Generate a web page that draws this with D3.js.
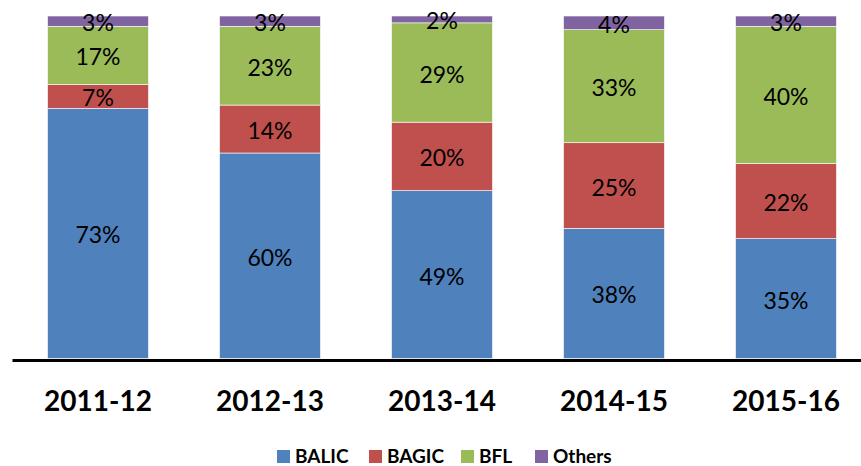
<!DOCTYPE html>
<html>
<head>
<meta charset="utf-8">
<script src="https://cdn.jsdelivr.net/npm/d3@7"></script>
<style>
  body { margin: 0; background: #fff; }
  svg { display: block; font-family: Lato, "Open Sans", sans-serif; }
</style>
</head>
<body>
<div id="chart"></div>
<script>
// share of each business, per year
const years = ["2011-12", "2012-13", "2013-14", "2014-15", "2015-16"];
const series = ["BALIC", "BAGIC", "BFL", "Others"];
const balic = [73, 60, 49, 38, 35];
const bagic = [7, 14, 20, 25, 22];
const bfl = [17, 23, 29, 33, 40];
const others = [3, 3, 2, 4, 3];
const colors = ["#4F81BD", "#C0504D", "#9BBB59", "#8064A2"];

const width = 861, height = 466,
    margin = ({ top: 16, bottom: 107, left: 12 });

const svg = d3.select("#chart")
    .append("svg")
    .attr("width", width)
    .attr("height", height);

const rows = years.map((y, i) => ({ year: y, BALIC: balic[i], BAGIC: bagic[i], BFL: bfl[i], Others: others[i] }));
const stacked = d3.stack().keys(series)(rows);

const x = d3.scaleBand()
    .domain(years)
    .range([margin.left, margin.left + 860])
    .paddingInner(0.413)
    .paddingOuter(0.2065);

const y = d3.scaleLinear()
    .domain([0, 100])
    .range([height - margin.bottom - 0.5, margin.top]);

const color = d3.scaleOrdinal().domain(series).range(colors);

const layer = svg.selectAll("g.layer")
    .data(stacked)
    .join("g")
    .attr("class", "layer")
    .attr("fill", d => color(d.key));

layer.selectAll("rect")
    .data(d => d)
    .join("rect")
    .attr("x", d => x(d.data.year))
    .attr("width", x.bandwidth())
    .attr("y", d => y(d[1]))
    .attr("height", d => y(d[0]) - y(d[1]))
    .attr("stroke", "#fff")
    .attr("stroke-width", 0.6);

// value labels in the middle of each segment
svg.append("g")
    .selectAll("g")
    .data(stacked)
    .join("g")
    .selectAll("text")
    .data(d => d)
    .join("text")
    .attr("x", d => x(d.data.year) + x.bandwidth() / 2)
    .attr("y", d => (y(d[0]) + y(d[1])) / 2 + 1)
    .attr("text-anchor", "middle")
    .attr("dominant-baseline", "central")
    .attr("font-size", 23)
    .attr("fill", "#000")
    .text(d => (d[1] - d[0]) + "%");

// x axis
const xAxis = svg.append("g")
    .attr("transform", `translate(0,${height - margin.bottom + 1})`)
    .call(d3.axisBottom(x).tickSize(0).tickPadding(31));
xAxis.select(".domain").attr("stroke", "#000").attr("stroke-width", 3);
xAxis.selectAll("text")
    .attr("font-family", "Lato, sans-serif")
    .attr("font-size", 28)
    .attr("font-weight", "bold")
    .attr("fill", "#000");

// legend
const legendX = [277, 369, 461, 535];
const legend = svg.append("g")
    .selectAll("g")
    .data(series)
    .join("g")
    .attr("transform", (d, i) => `translate(${legendX[i]},450)`);
legend.append("rect")
    .attr("width", 13)
    .attr("height", 13)
    .attr("fill", d => color(d));
legend.append("text")
    .attr("x", 18)
    .attr("y", 13)
    .attr("font-size", 19)
    .attr("font-weight", "bold")
    .attr("fill", "#000")
    .text(d => d);
</script>
</body>
</html>
